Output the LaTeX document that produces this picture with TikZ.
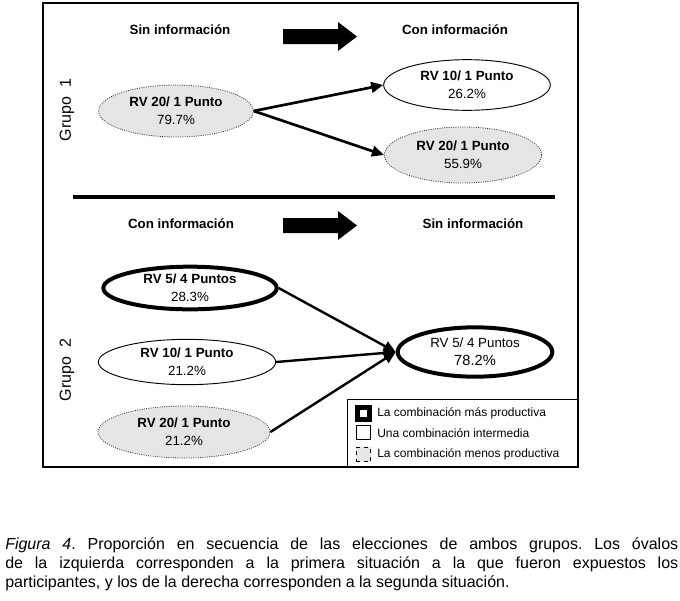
\documentclass[tikz,border=0pt]{standalone}
\usepackage{fontspec}
\setmainfont{Liberation Sans}
\usepackage{xcolor}
\usetikzlibrary{
    positioning,
    arrows.meta,
    shapes.geometric,
}
\frenchspacing
\definecolor{ovalgray}{RGB}{229,229,229}
\tikzset{
    % Oval styles
    oval/.style={ellipse, draw, inner sep=0pt, align=center,
                 font=\fontsize{10}{13.5}\selectfont, line width=0.7pt},
    best oval/.style={oval, line width=3pt},
    mid oval/.style={oval},
    worst oval/.style={oval, fill=ovalgray, draw=black!80, densely dotted, line width=0.6pt},
    % Arrow styles
    conn/.style={-{Triangle[length=9pt,width=8pt]}, line width=2pt},
    % Text styles
    head/.style={font=\fontsize{10}{12}\selectfont\bfseries},
    grupo/.style={font=\fontsize{12}{14}\selectfont, rotate=90},
    % Legend styles
    legkey/.style={rectangle, draw, inner sep=0pt, minimum size=11pt},
    legtext/.style={font=\fontsize{9}{11}\selectfont, anchor=west, inner sep=0pt},
}
% block arrow between the two headings, #1 = vertical centre
\newcommand{\bigarrow}[1]{%
    \fill (283,#1-7.5) -- (338,#1-7.5) -- (338,#1-14.5) -- (357,#1) --
          (338,#1+14.5) -- (338,#1+7.5) -- (283,#1+7.5) -- cycle;}

\begin{document}
\begin{tikzpicture}[x=0.75pt, y=-0.75pt]
    \useasboundingbox (0,0) rectangle (680,600);

    % Frame
    \draw[line width=1pt] (43,3) rectangle (578,467);

    % Group 1 headings
    \node[head] (sin1) at (180,30) {Sin información};
    \node[head] (con1) at (455,30) {Con información};
    \bigarrow{36.5}
    \node[grupo] (grupo1) at (67,110) {Grupo~~1};

    % Group 1 ovals
    \node[worst oval, minimum width=116pt, minimum height=39pt] (g1left) at (176,111)
        {\textbf{RV 20/ 1 Punto}\\79.7\%};
    \node[mid oval, minimum width=125pt, minimum height=38pt] (g1top) at (467,85)
        {\textbf{RV 10/ 1 Punto}\\26.2\%};
    \node[worst oval, minimum width=118pt, minimum height=42pt] (g1bot) at (463,155)
        {\textbf{RV 20/ 1 Punto}\\55.9\%};

    % Group 1 arrows
    \draw[conn] (g1left.east) -- (g1top.west);
    \draw[conn] (g1left.east) -- (g1bot.west);

    % Divider
    \draw[line width=3pt] (73,197) -- (555,197);

    % Group 2 headings
    \node[head] (con2) at (181,224) {Con información};
    \node[head] (sin2) at (473,224) {Sin información};
    \bigarrow{225.5}
    \node[grupo] (grupo2) at (67,370) {Grupo~~2};

    % Group 2 ovals
    \node[best oval, minimum width=130pt, minimum height=32pt] (g2a) at (190,288)
        {\textbf{RV 5/ 4 Puntos}\\28.3\%};
    \node[mid oval, minimum width=133pt, minimum height=34pt] (g2b) at (187,362)
        {\textbf{RV 10/ 1 Punto}\\21.2\%};
    \node[worst oval, minimum width=129pt, minimum height=39pt] (g2c) at (184,432)
        {\textbf{RV 20/ 1 Punto}\\21.2\%};
    \node[best oval, minimum width=116pt, minimum height=37pt] (g2right) at (475,352)
        {RV 5/ 4 Puntos\\{\fontsize{11}{13}\selectfont 78.2\%}};

    % Group 2 arrows
    \draw[conn, line width=1.8pt] (g2a.east) -- (g2right.west);
    \draw[conn, line width=1.8pt] (g2b.east) -- (g2right.west);
    \draw[conn, line width=1.8pt] (g2c.east) -- (g2right.west);

    % Legend
    \draw[line width=0.7pt] (347,399) rectangle (578,467);
    \node[legkey, line width=3.75pt, minimum size=9pt] (key1) at (363.5,413.5) {};
    \node[legkey, line width=0.7pt] (key2) at (363.5,432.5) {};
    \node[legkey, line width=0.7pt, fill=ovalgray, dashed] (key3) at (363.5,454.5) {};
    \node[legtext] (leg1) at (377,413) {La combinación más productiva};
    \node[legtext] (leg2) at (377,433) {Una combinación intermedia};
    \node[legtext] (leg3) at (377,454) {La combinación menos productiva};

    % Caption
    \node[anchor=north west, inner sep=0pt, text width=504.75pt, align=justify,
          font=\fontsize{12}{14.25}\selectfont] (caption) at (5,537)
        {\textit{Figura 4}. Proporción en secuencia de las elecciones de ambos grupos. Los óvalos\linebreak
         de la izquierda corresponden a la primera situación a la que fueron expuestos los\linebreak
         participantes, y los de la derecha corresponden a la segunda situación.};
\end{tikzpicture}
\end{document}
